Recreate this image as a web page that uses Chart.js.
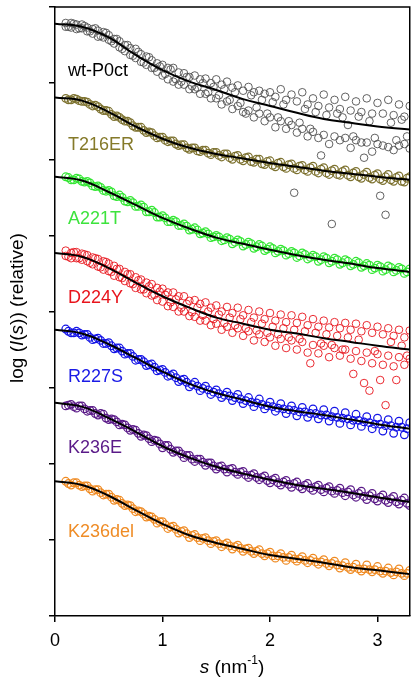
<!DOCTYPE html>
<html lang="en">
<head>
  <meta charset="UTF-8" />
  <title>SAXS curves</title>
  <script src="https://cdn.jsdelivr.net/npm/chart.js"></script>
  <style>
    html, body { margin: 0; padding: 0; background: #fff; }
    #wrap { width: 415px; height: 680px; }
  </style>
</head>
<body>
  <div id="wrap"><canvas id="saxs"></canvas></div>
  <script>
    // scattering vector s (nm^-1)
    const sData = [0.10,0.15,0.20,0.25,0.30,0.35,0.40,0.45,0.50,0.55,
      0.60,0.65,0.70,0.75,0.80,0.85,0.90,0.95,1.00,1.05,
      1.10,1.15,1.20,1.25,1.30,1.35,1.40,1.45,1.50,1.55,
      1.60,1.65,1.70,1.75,1.80,1.85,1.90,1.95,2.00,2.05,
      2.10,2.15,2.20,2.25,2.30,2.35,2.40,2.45,2.50,2.55,
      2.60,2.65,2.70,2.75,2.80,2.85,2.90,2.95,3.00,3.05,
      3.10,3.15,3.20,3.25,3.30];
    const sMid = [0.125,0.175,0.225,0.275,0.325,0.375,0.425,0.475,0.525,0.575,
      0.625,0.675,0.725,0.775,0.825,0.875,0.925,0.975,
      1.025,1.075,1.125,1.175,1.225,1.275,1.325,1.375,1.425,1.475,
      1.525,1.575,1.625,1.675,1.725,1.775,1.825,1.875,1.925,1.975,
      2.025,2.075,2.125,2.175,2.225,2.275,2.325,2.375,2.425,2.475,
      2.525,2.575,2.625,2.675,2.725,2.775,2.825,2.875,2.925,2.975,
      3.025,3.075,3.125,3.175,3.225,3.275];
    const sFit = [0,0.25,0.5,0.75,1,1.25,1.5,1.75,2,2.25,2.5,2.75,3,3.3];

    const xTicks = [0, 1, 2, 3];
    const yTicks = [0, 1, 2, 3, 4, 5, 6, 7, 8];

    // measured log I(s), offset per construct
    const wtData = [7.79,7.73,7.77,7.72,7.73,7.65,7.69,7.60,7.63,7.52,
      7.55,7.42,7.46,7.33,7.38,7.24,7.30,7.15,7.24,7.05,
      7.20,6.98,7.13,6.92,7.10,6.86,7.06,6.80,7.05,6.72,
      7.02,6.66,6.97,6.62,6.95,6.55,6.90,6.50,6.88,6.42,
      6.92,6.40,6.85,6.35,6.88,6.30,6.80,6.28,6.85,6.20,
      6.78,6.25,6.82,6.15,6.76,6.22,6.80,6.10,6.74,6.18,
      6.78,6.12,6.72,6.20,6.70];
    const wtMid = [7.74,7.78,7.72,7.75,7.68,7.72,7.62,7.66,7.55,7.58,
      7.45,7.50,7.36,7.41,7.27,7.34,7.20,7.22,
      7.12,7.18,7.05,7.02,7.08,6.96,6.94,7.00,6.88,6.95,
      6.84,6.92,6.78,6.88,6.74,6.60,6.84,6.68,6.78,6.60,
      6.75,6.55,6.72,6.50,5.56,6.48,6.66,6.40,6.62,6.05,
      6.58,5.15,6.60,6.55,6.45,6.30,6.56,6.02,6.50,6.28,
      5.52,5.27,6.48,6.25,6.52,6.30];
    const wtMore = [7.74,7.79,7.71,7.77,7.68,7.71,7.61,7.67,7.57,7.58,
      7.47,7.50,7.37,7.45,7.28,7.35,7.20,7.26,7.10,7.20,
      7.02,7.14,6.98,7.08,6.92,7.05,6.86,7.00,6.80,6.98,
      6.76,6.94,6.70,6.90,6.64,6.88,6.60,6.86,6.55,6.82,
      6.50,6.78,6.45,6.76,6.40,6.72,6.36,6.70,6.32,6.68,
      6.30,6.66,6.28,6.64,6.25,6.62,6.22,6.60,6.20,6.60,
      6.16,6.58,6.18,6.56,6.14];
    const t216Data = [6.80,6.78,6.79,6.76,6.75,6.70,6.69,6.64,6.63,6.56,
      6.55,6.50,6.48,6.42,6.42,6.35,6.35,6.28,6.29,6.23,
      6.24,6.18,6.19,6.13,6.15,6.10,6.12,6.06,6.09,6.03,
      6.07,6.00,6.05,5.98,6.03,5.96,6.00,5.93,5.98,5.90,
      5.96,5.88,5.94,5.86,5.92,5.84,5.91,5.82,5.89,5.80,
      5.87,5.79,5.86,5.77,5.84,5.75,5.83,5.74,5.81,5.72,
      5.80,5.71,5.78,5.70,5.77];
    const t216Mid = [6.78,6.80,6.77,6.76,6.72,6.71,6.66,6.64,6.59,6.57,
      6.52,6.50,6.44,6.42,6.38,6.36,6.31,6.29,
      6.25,6.24,6.20,6.19,6.15,6.15,6.11,6.12,6.08,6.09,
      6.05,6.07,6.02,6.04,6.00,6.02,5.97,6.00,5.94,5.97,
      5.92,5.95,5.90,5.93,5.88,5.91,5.86,5.89,5.84,5.87,
      5.82,5.85,5.80,5.84,5.79,5.82,5.77,5.80,5.76,5.79,
      5.74,5.77,5.73,5.76,5.71,5.75];
    const a221Data = [5.77,5.73,5.75,5.71,5.71,5.65,5.65,5.59,5.59,5.52,
      5.53,5.45,5.46,5.38,5.40,5.31,5.33,5.24,5.26,5.18,
      5.20,5.13,5.15,5.07,5.10,5.02,5.05,4.97,5.00,4.93,
      4.97,4.89,4.94,4.86,4.91,4.83,4.88,4.80,4.85,4.77,
      4.82,4.74,4.79,4.71,4.77,4.69,4.74,4.66,4.72,4.64,
      4.70,4.62,4.68,4.60,4.66,4.58,4.63,4.55,4.61,4.53,
      4.60,4.52,4.58,4.50,4.56];
    const a221Mid = [5.76,5.73,5.74,5.70,5.69,5.64,5.63,5.58,5.57,5.51,
      5.50,5.44,5.43,5.38,5.37,5.31,5.30,5.24,
      5.23,5.18,5.18,5.13,5.12,5.08,5.07,5.03,5.02,4.98,
      4.98,4.94,4.95,4.91,4.92,4.88,4.89,4.85,4.86,4.82,
      4.83,4.79,4.80,4.76,4.77,4.73,4.75,4.71,4.72,4.68,
      4.70,4.66,4.68,4.64,4.66,4.62,4.64,4.60,4.61,4.57,
      4.59,4.55,4.58,4.54,4.56,4.52];
    const d224Data = [4.80,4.70,4.78,4.68,4.74,4.62,4.69,4.55,4.63,4.47,
      4.56,4.40,4.49,4.31,4.42,4.24,4.36,4.15,4.30,4.07,
      4.25,4.00,4.20,3.94,4.15,3.88,4.12,3.82,4.08,3.76,
      4.06,3.72,4.05,3.68,4.02,3.62,4.00,3.60,3.98,3.55,
      3.96,3.52,3.95,3.50,3.93,3.46,3.90,3.45,3.88,3.40,
      3.86,3.42,3.85,3.38,3.84,3.35,3.82,3.32,3.80,3.30,
      3.78,3.28,3.76,3.30,3.75];
    const d224Mid = [4.72,4.78,4.70,4.75,4.64,4.70,4.58,4.65,4.52,4.56,
      4.44,4.49,4.36,4.41,4.29,4.33,4.22,4.26,
      4.22,4.12,4.16,4.05,4.10,3.99,4.05,3.95,4.00,3.90,
      3.96,3.85,3.92,3.82,3.90,3.78,3.86,3.75,3.84,3.72,
      3.80,3.70,3.78,3.66,3.76,3.64,3.74,3.32,3.72,3.58,
      3.70,3.56,3.68,3.50,3.66,3.18,3.63,3.06,2.96,3.48,
      3.10,2.77,3.60,3.10,3.55,3.42];
    const d224More = [4.73,4.77,4.70,4.76,4.66,4.71,4.59,4.66,4.53,4.60,
      4.45,4.52,4.37,4.45,4.29,4.38,4.21,4.31,4.13,4.25,
      4.06,4.20,4.00,4.14,3.93,4.10,3.88,4.05,3.84,4.00,
      3.80,3.98,3.78,3.95,3.74,3.92,3.70,3.90,3.66,3.88,
      3.64,3.86,3.62,3.85,3.60,3.82,3.56,3.80,3.55,3.79,
      3.52,3.78,3.50,3.76,3.48,3.74,3.46,3.72,3.44,3.70,
      3.42,3.68,3.40,3.66,3.38];
    const r227Data = [3.77,3.72,3.74,3.69,3.70,3.63,3.65,3.58,3.59,3.51,
      3.52,3.44,3.45,3.36,3.37,3.29,3.31,3.22,3.24,3.15,
      3.18,3.08,3.11,3.01,3.07,2.96,3.02,2.91,2.97,2.87,
      2.94,2.83,2.91,2.79,2.87,2.75,2.85,2.72,2.81,2.69,
      2.79,2.66,2.76,2.63,2.74,2.61,2.72,2.59,2.71,2.56,
      2.69,2.53,2.67,2.51,2.65,2.49,2.62,2.46,2.60,2.43,
      2.58,2.40,2.56,2.38,2.54];
    const r227Mid = [3.74,3.72,3.72,3.70,3.66,3.64,3.62,3.58,3.55,3.52,
      3.48,3.45,3.41,3.37,3.34,3.30,3.27,3.23,
      3.20,3.16,3.13,3.10,3.07,3.04,3.02,2.99,2.97,2.94,
      2.92,2.90,2.89,2.87,2.85,2.83,2.81,2.80,2.78,2.76,
      2.75,2.73,2.72,2.71,2.70,2.68,2.68,2.66,2.66,2.64,
      2.64,2.62,2.61,2.60,2.59,2.57,2.57,2.55,2.54,2.52,
      2.52,2.50,2.50,2.48,2.48,2.46];
    const k236eData = [2.76,2.78,2.73,2.76,2.69,2.70,2.64,2.65,2.58,2.58,
      2.51,2.51,2.44,2.44,2.36,2.37,2.29,2.30,2.21,2.24,
      2.15,2.17,2.08,2.11,2.03,2.06,1.98,2.01,1.93,1.97,
      1.89,1.94,1.86,1.90,1.82,1.87,1.79,1.84,1.75,1.81,
      1.72,1.78,1.69,1.76,1.67,1.74,1.65,1.72,1.63,1.70,
      1.61,1.68,1.58,1.66,1.56,1.64,1.53,1.61,1.51,1.59,
      1.49,1.57,1.47,1.55,1.45];
    const k236eMid = [2.77,2.75,2.76,2.72,2.70,2.66,2.66,2.60,2.59,2.55,
      2.52,2.47,2.45,2.40,2.38,2.33,2.31,2.26,
      2.24,2.19,2.17,2.13,2.11,2.06,2.06,2.02,2.01,1.97,
      1.96,1.93,1.93,1.89,1.89,1.85,1.85,1.82,1.82,1.78,
      1.79,1.75,1.76,1.73,1.74,1.70,1.72,1.68,1.70,1.66,
      1.68,1.64,1.65,1.62,1.63,1.59,1.61,1.57,1.58,1.54,
      1.56,1.52,1.54,1.50,1.52,1.48];
    const k236delData = [1.77,1.72,1.75,1.70,1.71,1.64,1.66,1.59,1.60,1.52,
      1.52,1.45,1.45,1.37,1.37,1.30,1.30,1.22,1.24,1.15,
      1.18,1.09,1.12,1.03,1.07,0.99,1.03,0.95,0.99,0.91,
      0.96,0.88,0.93,0.85,0.89,0.82,0.87,0.79,0.84,0.76,
      0.82,0.73,0.80,0.72,0.78,0.70,0.76,0.68,0.74,0.66,
      0.72,0.63,0.70,0.61,0.68,0.59,0.67,0.58,0.65,0.56,
      0.63,0.54,0.62,0.53,0.60];
    const k236delMid = [1.74,1.75,1.72,1.71,1.67,1.66,1.62,1.60,1.56,1.53,
      1.48,1.46,1.41,1.38,1.34,1.31,1.27,1.24,
      1.20,1.17,1.14,1.11,1.08,1.06,1.03,1.02,0.99,0.98,
      0.95,0.94,0.92,0.91,0.89,0.88,0.85,0.85,0.82,0.82,
      0.79,0.79,0.77,0.77,0.75,0.75,0.73,0.73,0.71,0.71,
      0.69,0.69,0.67,0.66,0.64,0.64,0.62,0.62,0.61,0.61,
      0.59,0.59,0.57,0.58,0.56,0.56];

    // model fits
    const wtFit = [7.78,7.74,7.60,7.37,7.17,7.02,6.91,6.79,6.70,6.61,6.53,6.48,6.43,6.39];
    const t216Fit = [6.81,6.77,6.62,6.43,6.27,6.15,6.07,6.01,5.95,5.90,5.85,5.81,5.77,5.73];
    const a221Fit = [5.77,5.72,5.57,5.40,5.23,5.09,4.97,4.89,4.81,4.74,4.68,4.63,4.57,4.52];
    const d224Fit = [4.77,4.72,4.57,4.38,4.20,4.05,3.92,3.84,3.76,3.71,3.65,3.60,3.55,3.50];
    const r227Fit = [3.76,3.71,3.57,3.39,3.21,3.05,2.93,2.84,2.75,2.69,2.64,2.58,2.52,2.46];
    const k236eFit = [2.80,2.75,2.60,2.42,2.23,2.08,1.96,1.87,1.79,1.72,1.67,1.62,1.56,1.50];
    const k236delFit = [1.77,1.72,1.58,1.39,1.21,1.06,0.96,0.88,0.80,0.75,0.70,0.64,0.60,0.55];

    const names = ["wt-P0ct", "T216ER", "A221T", "D224Y", "R227S", "K236E", "K236del"];
    const labelY = [7.16, 6.19, 5.22, 4.18, 3.14, 2.21, 1.10];

    const colors = ["#505050", "#7d7230", "#33e633", "#e8141c", "#1414e6", "#5a1a88", "#ef8a22"];
    const textColors = ["#000000", "#857a2a", "#3de33d", "#e8141c", "#1a1ae6", "#5a1a88", "#ef8c26"];

    const FONT = "'Liberation Sans', Arial, Helvetica, sans-serif";

    const pts = (xs, ys) => xs.map((x, i) => ({ x: x, y: ys[i] }));

    // [data on sData, data on sMid, fit, extra data on sData]
    const series = [
      [wtData, wtMid, wtFit, wtMore],
      [t216Data, t216Mid, t216Fit, null],
      [a221Data, a221Mid, a221Fit, null],
      [d224Data, d224Mid, d224Fit, d224More],
      [r227Data, r227Mid, r227Fit, null],
      [k236eData, k236eMid, k236eFit, null],
      [k236delData, k236delMid, k236delFit, null]
    ];

    const scatterStyle = (c, w) => ({
      type: "scatter",
      showLine: false,
      pointStyle: "circle",
      pointRadius: 3.8,
      pointBorderWidth: w,
      pointBorderColor: c,
      pointBackgroundColor: "rgba(0,0,0,0)",
      borderColor: c,
      clip: 0,
      order: 2
    });

    const datasets = [];
    series.forEach((s, i) => {
      const c = colors[i];
      const w = s[3] ? 0.9 : 1.25;
      datasets.push(Object.assign({ label: names[i], data: pts(sData, s[0]) }, scatterStyle(c, w)));
      datasets.push(Object.assign({ label: names[i] + " b", data: pts(sMid, s[1]) }, scatterStyle(c, w)));
      if (s[3]) {
        datasets.push(Object.assign({ label: names[i] + " c", data: pts(sData, s[3]) }, scatterStyle(c, w)));
      }
    });
    series.forEach((s, i) => {
      datasets.push({
        type: "line",
        label: names[i] + " fit",
        data: pts(sFit, s[2]),
        borderColor: "#000",
        borderWidth: 2,
        pointRadius: 0,
        fill: false,
        tension: 0.4,
        clip: 0,
        order: 1
      });
    });

    // texts: series labels, axis titles, frame
    const decor = {
      id: "decor",
      afterDatasetsDraw(chart) {
        const { ctx, chartArea: a, scales } = chart;
        ctx.save();
        ctx.strokeStyle = "#000";
        ctx.lineWidth = 1.5;
        ctx.beginPath();
        ctx.moveTo(a.left, a.top);
        ctx.lineTo(a.right, a.top);
        ctx.lineTo(a.right, a.bottom);
        ctx.stroke();

        ctx.font = "18px " + FONT;
        ctx.textBaseline = "middle";
        ctx.textAlign = "left";
        names.forEach((n, i) => {
          ctx.fillStyle = textColors[i];
          ctx.fillText(n, scales.x.getPixelForValue(0.12), scales.y.getPixelForValue(labelY[i]));
        });

        // x title: s (nm^-1)
        ctx.fillStyle = "#000";
        const xParts = [
          ["italic 19px " + FONT, "s", 0],
          ["19px " + FONT, " (nm", 0],
          ["12px " + FONT, "-1", -7],
          ["19px " + FONT, ")", 0]
        ];
        drawParts(ctx, xParts, 232, 668);

        // y title: log (I(s)) (relative)
        ctx.translate(18, 308);
        ctx.rotate(-Math.PI / 2);
        const yParts = [
          ["19px " + FONT, "log (", 0],
          ["italic 19px " + FONT, "I", 0],
          ["19px " + FONT, "(", 0],
          ["italic 19px " + FONT, "s", 0],
          ["19px " + FONT, ")) (relative)", 0]
        ];
        drawParts(ctx, yParts, 0, 0);
        ctx.restore();
      }
    };

    function drawParts(ctx, parts, cx, cy) {
      let total = 0;
      parts.forEach(p => { ctx.font = p[0]; total += ctx.measureText(p[1]).width; });
      let x = cx - total / 2;
      ctx.textAlign = "left";
      ctx.textBaseline = "middle";
      parts.forEach(p => {
        ctx.font = p[0];
        ctx.fillText(p[1], x, cy + p[2]);
        x += ctx.measureText(p[1]).width;
      });
    }

    new Chart(document.getElementById("saxs"), {
      type: "scatter",
      data: { datasets: datasets },
      options: {
        responsive: true,
        maintainAspectRatio: false,
        animation: false,
        layout: { padding: { top: 7, right: 4, left: 0, bottom: 0 } },
        plugins: { legend: { display: false }, tooltip: { enabled: false } },
        scales: {
          x: {
            type: "linear",
            min: 0,
            max: 3.3,
            afterBuildTicks: (sc) => { sc.ticks = xTicks.map(v => ({ value: v })); },
            afterFit: (sc) => { sc.height = 64; },
            ticks: { color: "#000", font: { size: 18, family: FONT }, padding: 8 },
            grid: { drawOnChartArea: false, drawTicks: true, tickLength: 6, color: "#000", lineWidth: 1.5 },
            border: { display: true, color: "#000", width: 1.5 }
          },
          y: {
            type: "linear",
            min: 0,
            max: 8,
            afterBuildTicks: (sc) => { sc.ticks = yTicks.map(v => ({ value: v })); },
            afterFit: (sc) => { sc.width = 55; },
            ticks: { display: false },
            grid: { drawOnChartArea: false, drawTicks: true, tickLength: 6, color: "#000", lineWidth: 1.5 },
            border: { display: true, color: "#000", width: 1.5 }
          }
        }
      },
      plugins: [decor]
    });
  </script>
</body>
</html>
